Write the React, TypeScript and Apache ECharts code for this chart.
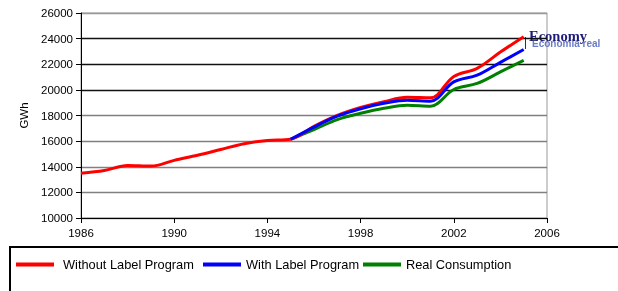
import React, { useEffect, useRef } from "react";
import * as echarts from "echarts";

const years = [1986, 1987, 1988, 1989, 1990, 1991, 1992, 1993, 1994, 1995, 1996, 1997, 1998, 1999, 2000, 2001, 2002, 2003, 2004, 2005];
const withoutLabel = [13500, 13700, 14100, 14050, 14500, 14900, 15350, 15800, 16050, 16150, 17150, 18000, 18620, 19080, 19420, 19380, 21050, 21680, 22950, 24150];
const labelYears = [1995, 1996, 1997, 1998, 1999, 2000, 2001, 2002, 2003, 2004, 2005];
const withLabel = [16150, 17100, 17950, 18530, 18950, 19200, 19120, 20620, 21150, 22150, 23150];
const realConsumption = [16150, 16900, 17680, 18170, 18560, 18800, 18720, 20030, 20500, 21400, 22300];
const seriesNames = ["Without Label Program", "With Label Program", "Real Consumption"];
const seriesColors = ["#ff0000", "#0000ff", "#008000"];
const gridLineColors = ["#808080", "#808080", "#808080", "#808080", "#808080", "#111", "#111", "#111", "#999"];

const FONT = "Liberation Sans, Arial, sans-serif";

export default function App() {
  const ref = useRef<HTMLDivElement>(null);
  useEffect(() => {
    if (!ref.current) return;
    const chart = echarts.init(ref.current, undefined, { renderer: "svg" });
    const legendLefts = [16, 203, 363];
    chart.setOption({
      animation: false,
      grid: {
        left: 81,
        right: 71,
        top: 13,
        bottom: 73,
        show: true,
        borderColor: "#999",
        borderWidth: 1,
        backgroundColor: "transparent",
      },
      xAxis: {
        type: "value",
        min: 1986,
        max: 2006,
        interval: 4,
        axisLine: { show: true, lineStyle: { color: "#000", width: 1 } },
        axisTick: { show: true, length: 5, lineStyle: { color: "#000" } },
        axisLabel: { color: "#000", fontFamily: FONT, fontSize: 11.5, margin: 9, formatter: (v: number) => String(v) },
        splitLine: { show: false },
      },
      yAxis: {
        type: "value",
        min: 10000,
        max: 26000,
        interval: 2000,
        name: "GWh",
        nameLocation: "middle",
        nameGap: 43,
        nameRotate: 90,
        nameTextStyle: { color: "#000", fontFamily: FONT, fontSize: 11.5 },
        axisLine: { show: true, lineStyle: { color: "#000", width: 1 } },
        axisTick: { show: true, length: 5, lineStyle: { color: "#000" } },
        axisLabel: { color: "#000", fontFamily: FONT, fontSize: 11.5, margin: 8, formatter: (v: number) => String(v) },
        splitLine: { show: true, lineStyle: { color: gridLineColors, width: 1.3 } },
      },
      legend: seriesNames.map((n, i) => ({
        data: [n],
        left: legendLefts[i],
        top: 258,
        padding: 0,
        itemWidth: 38,
        itemHeight: 4,
        icon: "rect",
        selectedMode: false,
        textStyle: {
          color: "#000",
          fontFamily: FONT,
          fontSize: 12.8,
          padding: i === 0 ? [0, 0, 0, 4] : [0, 0, 0, 0],
        },
      })),
      series: [
        {
          name: seriesNames[0],
          type: "line",
          data: years.map((y, i) => [y, withoutLabel[i]]),
          smooth: 0.35,
          showSymbol: false,
          lineStyle: { color: seriesColors[0], width: 3 },
          itemStyle: { color: seriesColors[0] },
          z: 3,
        },
        {
          name: seriesNames[1],
          type: "line",
          data: labelYears.map((y, i) => [y, withLabel[i]]),
          smooth: 0.35,
          showSymbol: false,
          lineStyle: { color: seriesColors[1], width: 3 },
          itemStyle: { color: seriesColors[1] },
          z: 4,
        },
        {
          name: seriesNames[2],
          type: "line",
          data: labelYears.map((y, i) => [y, realConsumption[i]]),
          smooth: 0.35,
          showSymbol: false,
          lineStyle: { color: seriesColors[2], width: 3 },
          itemStyle: { color: seriesColors[2] },
          z: 2,
        },
      ],
      graphic: [
        {
          type: "rect",
          shape: { x: 10, y: 247, width: 700, height: 100 },
          style: { fill: "none", stroke: "#000", lineWidth: 2 },
          silent: true,
        },
        {
          type: "line",
          shape: { x1: 525.5, y1: 37, x2: 525.5, y2: 49 },
          style: { stroke: "#333", lineWidth: 1 },
        },
        {
          type: "text",
          left: 532,
          top: 38,
          style: {
            text: "Economia real",
            fill: "rgba(80,100,190,0.85)",
            font: "bold 10px Liberation Sans, Arial, sans-serif",
          },
        },
        {
          type: "text",
          left: 529,
          top: 28,
          style: {
            text: "Economy",
            fill: "#1c1c78",
            font: "bold 14.5px Liberation Serif, Times New Roman, serif",
          },
        },
      ],
    });
    return () => chart.dispose();
  }, []);
  return <div ref={ref} style={{ position: "fixed", left: 0, top: 0, width: 618, height: 291 }} />;
}
